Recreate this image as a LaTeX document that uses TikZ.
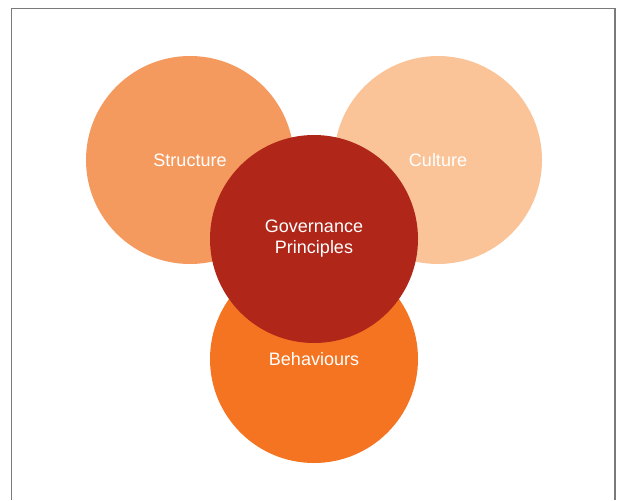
\documentclass[tikz,border=0pt]{standalone}
\usepackage{fontspec}
\setmainfont{Liberation Sans}
\usepackage{xcolor}
\usetikzlibrary{positioning}

\definecolor{structcol}{HTML}{F59A5E}
\definecolor{culturecol}{HTML}{FAC498}
\definecolor{behavcol}{HTML}{F47421}
\definecolor{govcol}{HTML}{B0271A}
\definecolor{framecol}{HTML}{7A7A7A}

\begin{document}
\begin{tikzpicture}[x=1pt, y=-1pt,
    every node/.style={align=center, text=white, font=\fontsize{18}{21}\selectfont},
    blob/.style={circle, inner sep=0pt, minimum size=208pt}]
  \useasboundingbox (0,0) rectangle (617,500);
  % open frame
  \draw[framecol, line width=1.5pt] (11.5,500) -- (11.5,8.5) -- (615,8.5) -- (615,500);
  % circles
  \node[blob, fill=structcol] (structure) at (190,160) {Structure};
  \node[blob, fill=culturecol] (culture) at (438,160) {Culture};
  \node[blob, fill=behavcol] (behaviours) at (314,359) {Behaviours};
  \node[blob, fill=govcol] (governance) at (314,239) {Governance\\Principles};
\end{tikzpicture}
\end{document}
